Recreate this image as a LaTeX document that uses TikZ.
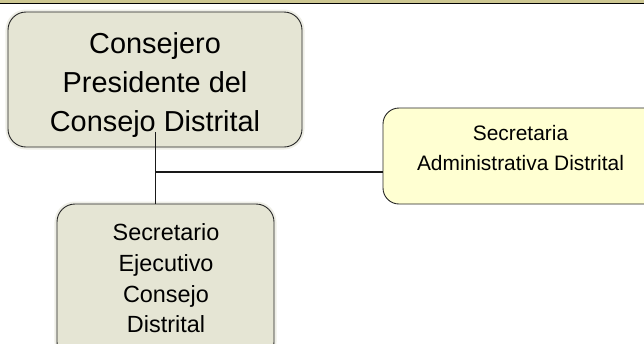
\documentclass[tikz,border=0pt]{standalone}
\usepackage{fontspec}
\setmainfont{Liberation Sans}
\definecolor{banda}{RGB}{205,199,146}
\definecolor{cajagris}{RGB}{229,229,212}
\definecolor{cajaamarilla}{RGB}{255,255,210}
\definecolor{brillo}{RGB}{238,238,230}
\begin{document}
\begin{tikzpicture}[x=1bp, y=-1bp,
  caja/.style={draw=black!85, line width=0.9bp, rounded corners=18bp, inner sep=0pt},
  cajag/.style={caja, fill=cajagris, preaction={draw=brillo, line width=5bp}},
  cajay/.style={caja, fill=cajaamarilla, rounded corners=16bp},
  texto/.style={align=center, inner sep=0pt},
  linea/.style={draw=black!90, line width=1bp}]

\useasboundingbox (0,0) rectangle (644,343);

% banda superior
\fill[banda] (0,0) rectangle (644,2.6);
\draw[line width=1.4bp] (0,3.3) -- (644,3.3);

% cajas
\node[cajag, minimum width=294bp, minimum height=135bp] (pres) at (155,79.5) {};
\node[texto, font=\fontsize{29}{39.5}\selectfont] (prestxt) at (155,85) {Consejero\\Presidente del\\Consejo Distrital};

\node[cajag, minimum width=217bp, minimum height=156bp] (sec) at (165.5,282) {};
\node[texto, font=\fontsize{23.5}{30.7}\selectfont] (sectxt) at (166,278.5) {Secretario\\Ejecutivo\\Consejo\\Distrital};

\node[cajay, minimum width=277bp, minimum height=96bp] (adm) at (521.5,156) {};
\node[texto, font=\fontsize{21}{30}\selectfont] (admtxt) at (520.5,148) {Secretaria\\Administrativa Distrital};

% conectores
\coordinate (arranque) at ([yshift=6bp]prestxt.south);
\coordinate (junta) at (arranque |- 0,172);
\draw[linea] (arranque) -- (arranque |- sec.north);
\draw[linea, line width=1.3bp] (junta) -- (junta -| adm.west);

\end{tikzpicture}
\end{document}
